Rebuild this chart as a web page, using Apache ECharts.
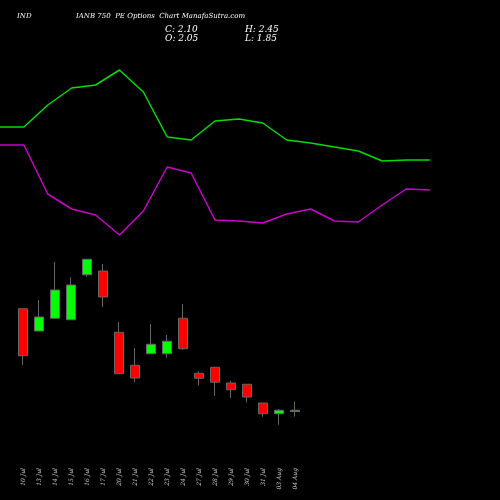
<!DOCTYPE html><html><head><meta charset="utf-8">
<script src="https://cdn.jsdelivr.net/npm/echarts@6/dist/echarts.min.js"></script>
<style>html,body{margin:0;background:#000}#c{width:500px;height:500px}</style></head><body><div id="c"></div>
<script>
const dates=['10 Jul','13 Jul','14 Jul','15 Jul','16 Jul','17 Jul','20 Jul','21 Jul','22 Jul','23 Jul','24 Jul','27 Jul','28 Jul','29 Jul','30 Jul','31 Jul','03 Aug','04 Aug'];
const opens=[6.16,5.27,5.78,5.72,7.52,7.67,5.22,3.90,4.36,4.36,5.78,3.58,3.82,3.19,3.14,2.39,1.96,2.05];
const closes=[4.28,5.83,6.91,7.11,8.14,6.63,3.56,3.39,4.74,4.86,4.56,3.38,3.22,2.92,2.63,1.96,2.10,2.10];
const lows=[3.91,5.27,5.78,5.72,7.44,6.23,3.56,3.22,4.36,4.20,4.52,3.08,2.68,2.59,2.42,1.84,1.52,1.85];
const highs=[6.16,6.51,8.03,7.42,8.14,7.95,5.63,4.59,5.55,5.11,6.35,3.66,3.84,3.28,3.14,2.39,2.15,2.45];
const greenLine=[17.3,17.3,19.5,21.2,21.5,23.0,20.8,16.3,16.0,17.9,18.1,17.7,16.0,15.7,15.3,14.9,13.9,14.0,14.0];
const purpleLine=[15.5,15.5,10.6,9.1,8.5,6.5,8.9,13.3,12.7,8.0,7.9,7.7,8.6,9.1,7.9,7.8,9.5,11.1,11.0];
const lineX=greenLine.map((_,i)=>String(i));
const ch=echarts.init(document.getElementById('c'));
const f='"DejaVu Serif",serif';
ch.setOption({backgroundColor:'#000',animation:false,
title:[
{text:'IND',left:12,top:8,textStyle:{color:'#fff',fontSize:7,fontStyle:'italic',fontFamily:f,fontWeight:'normal'}},
{text:'IANB 750  PE Options  Chart ManafaSutra.com',left:71,top:8,textStyle:{color:'#fff',fontSize:7,fontStyle:'italic',fontFamily:f,fontWeight:'normal'}},
{text:'C: 2.10',left:160,top:20,textStyle:{color:'#fff',fontSize:9,fontStyle:'italic',fontFamily:f,fontWeight:'normal'}},
{text:'O: 2.05',left:160,top:29,textStyle:{color:'#fff',fontSize:9,fontStyle:'italic',fontFamily:f,fontWeight:'normal'}},
{text:'H: 2.45',left:240,top:20,textStyle:{color:'#fff',fontSize:9,fontStyle:'italic',fontFamily:f,fontWeight:'normal'}},
{text:'L: 1.85',left:240,top:29,textStyle:{color:'#fff',fontSize:9,fontStyle:'italic',fontFamily:f,fontWeight:'normal'}}],
grid:[{left:0,width:430,top:0,height:300},{left:15,width:288,top:250,height:200}],
xAxis:[{gridIndex:0,type:'category',data:lineX,boundaryGap:false,show:false},
{gridIndex:1,type:'category',data:dates,axisLine:{show:false},axisTick:{show:false},
 axisLabel:{rotate:90,color:'#ccc',fontSize:6,fontFamily:f,fontStyle:'italic',margin:18,interval:0}}],
yAxis:[{gridIndex:0,min:0,max:30,show:false},{gridIndex:1,min:0.51,max:8.51,show:false}],
series:[
{type:'line',xAxisIndex:0,yAxisIndex:0,data:greenLine,symbol:'none',lineStyle:{color:'#00dd00',width:1.5}},
{type:'line',xAxisIndex:0,yAxisIndex:0,data:purpleLine,symbol:'none',lineStyle:{color:'#cc00cc',width:1.5}},
{type:'candlestick',xAxisIndex:1,yAxisIndex:1,barWidth:10,
 data:dates.map((_,i)=>[opens[i],closes[i],lows[i],highs[i]]),
 itemStyle:{color:'#00ff00',color0:'#ff0000',borderColor:'#666',borderColor0:'#666',borderWidth:1}}]});
</script></body></html>
